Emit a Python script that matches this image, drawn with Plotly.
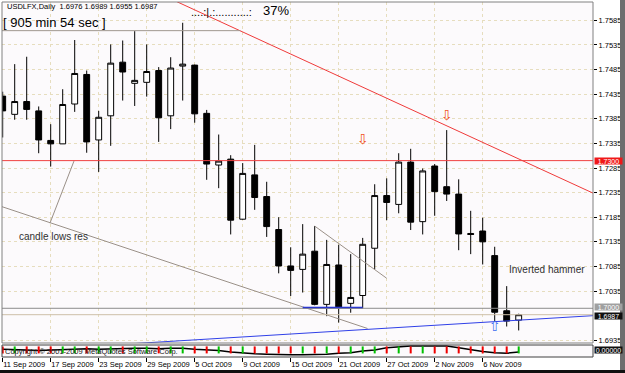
import datetime as dt
import plotly.graph_objects as go

# ---------------- data ----------------
dates = ["2009-09-11",
         "2009-09-14", "2009-09-15", "2009-09-16", "2009-09-17", "2009-09-18",
         "2009-09-21", "2009-09-22", "2009-09-23", "2009-09-24", "2009-09-25",
         "2009-09-28", "2009-09-29", "2009-09-30", "2009-10-01", "2009-10-02",
         "2009-10-05", "2009-10-06", "2009-10-07", "2009-10-08", "2009-10-09",
         "2009-10-12", "2009-10-13", "2009-10-14", "2009-10-15", "2009-10-16",
         "2009-10-19", "2009-10-20", "2009-10-21", "2009-10-22", "2009-10-23",
         "2009-10-26", "2009-10-27", "2009-10-28", "2009-10-29", "2009-10-30",
         "2009-11-02", "2009-11-03", "2009-11-04", "2009-11-05", "2009-11-06",
         "2009-11-09", "2009-11-10", "2009-11-11"]

opens = [1.7431, 1.7394, 1.7420, 1.7401, 1.7341, 1.7334, 1.7415, 1.7475, 1.7342, 1.7391,
         1.7500, 1.7457, 1.7459, 1.7483, 1.7391, 1.7492, 1.7494, 1.7396, 1.7291, 1.7303,
         1.7181, 1.7271, 1.7227, 1.7160, 1.7086, 1.7079, 1.7116, 1.7008, 1.7088, 1.7010,
         1.7026, 1.7122, 1.7229, 1.7211, 1.7297, 1.7176, 1.7289, 1.7247, 1.7232, 1.7152,
         1.7157, 1.7107, 1.6995, 1.6976]
highs = [1.7440, 1.7496, 1.7511, 1.7410, 1.7374, 1.7445, 1.7545, 1.7483, 1.7401, 1.7536,
         1.7544, 1.7563, 1.7536, 1.7490, 1.7510, 1.7580, 1.7495, 1.7403, 1.7353, 1.7311,
         1.7295, 1.7332, 1.7257, 1.7185, 1.7124, 1.7171, 1.7167, 1.7139, 1.7129, 1.7110,
         1.7143, 1.7252, 1.7264, 1.7315, 1.7324, 1.7284, 1.7293, 1.7362, 1.7262, 1.7198,
         1.7184, 1.7125, 1.7045, 1.6989]
lows = [1.7347, 1.7383, 1.7383, 1.7315, 1.7288, 1.7334, 1.7399, 1.7316, 1.7277, 1.7330,
        1.7422, 1.7411, 1.7430, 1.7338, 1.7364, 1.7422, 1.7377, 1.7261, 1.7244, 1.7150,
        1.7180, 1.7200, 1.7145, 1.7071, 1.7025, 1.7032, 1.7006, 1.6984, 1.6971, 1.6991,
        1.7000, 1.7079, 1.7179, 1.7193, 1.7159, 1.7150, 1.7188, 1.7218, 1.7118, 1.7110,
        1.7089, 1.6973, 1.6963, 1.6955]
closes = [1.7401, 1.7420, 1.7404, 1.7342, 1.7334, 1.7414, 1.7477, 1.7338, 1.7388, 1.7498,
          1.7480, 1.7463, 1.7481, 1.7387, 1.7488, 1.7496, 1.7395, 1.7293, 1.7299, 1.7179,
          1.7274, 1.7225, 1.7166, 1.7086, 1.7077, 1.7110, 1.7008, 1.7089, 1.7003, 1.7022,
          1.7130, 1.7229, 1.7215, 1.7297, 1.7175, 1.7279, 1.7237, 1.7232, 1.7151, 1.7150,
          1.7135, 1.6992, 1.6974, 1.6987]

# sub-window oscillator (0 = top of window)
indicator = [-35, -35, -40, -45, -40, -35, -30, -30, -35, -30,
             -25, -25, -25, -30, -25, -25, -35, -40, -45, -60,
             -70, -75, -80, -85, -85, -85, -85, -80, -70, -65,
             -50, -40, -20, -10, -5, -5, -5, -5, -20, -40,
             -55, -65, -70, -60]

price_ticks = [1.7585, 1.7535, 1.7485, 1.7435, 1.7385, 1.7335, 1.7285, 1.7235,
               1.7185, 1.7135, 1.7085, 1.7035, 1.6935]
date_tick_step = 4

# drawn objects (bar index, price)
red_trend_x, red_trend_y = [14.5, 49.5], [1.7623, 1.72305]
lows_res_x, lows_res_y = [-0.5, 30.4], [1.7210, 1.6959]
label_link_x, label_link_y = [3.94, 5.94], [1.7173, 1.7299]
wedge_x, wedge_y = [26.0, 32.0], [1.7167, 1.7061]
top_res_x, top_res_y = [-0.5, 19.8], [1.7564, 1.7564]
blue_support_x, blue_support_y = [25.0, 30.0], [1.7001, 1.7001]
blue_trend_x, blue_trend_y = [8.0, 49.5], [1.6924, 1.69855]
level_red = 1.7300
level_gray = 1.7000
bid_price = 1.6987
down_arrow_x, down_arrow_y = [30, 37], [1.7340, 1.7389]
up_arrow_x, up_arrow_y = [41], [1.6960]
note1_x, note1_y, note1 = 1.19, 1.7145, "candle lows res"
note2_x, note2_y, note2 = 42.0, 1.7078, "Inverted hammer"

# ---------------- figure ----------------
xs = list(range(len(dates)))
tick_vals = xs[::date_tick_step]
tick_text = []
for d in dates[::date_tick_step]:
    t = dt.date.fromisoformat(d)
    tick_text.append(f"{t.day} {t.strftime('%b %Y')}")

FONT = "Liberation Sans"
W, H = 625, 373
ML, MR, MT, MB = 2, 32, 2, 16
PW, PH = W - ML - MR, H - MT - MB


def px(xp):
    return (xp - ML) / PW


def py(yp):
    return (H - MB - yp) / PH


main_dom = [py(343), 1.0]
sub_dom = [0.0, py(345)]

fig = go.Figure()

fig.add_trace(go.Candlestick(
    x=xs, open=opens, high=highs, low=lows, close=closes,
    increasing=dict(line=dict(color="black", width=1), fillcolor="white"),
    decreasing=dict(line=dict(color="black", width=1), fillcolor="black"),
    whiskerwidth=0, hoverinfo="skip", showlegend=False, xaxis="x", yaxis="y"))


def seg(x, y, color, width=1):
    fig.add_trace(go.Scatter(x=x, y=y, mode="lines", line=dict(color=color, width=width),
                             hoverinfo="skip", showlegend=False, xaxis="x", yaxis="y"))


seg(red_trend_x, red_trend_y, "#F03A3A")
seg(lows_res_x, lows_res_y, "#9A9088")
seg(label_link_x, label_link_y, "#9A9088")
seg(wedge_x, wedge_y, "#9A9088")
seg(top_res_x, top_res_y, "#A09890")
seg(blue_trend_x, blue_trend_y, "#3040E8")
seg(blue_support_x, blue_support_y, "#1020E0", 2)

fig.add_trace(go.Scatter(x=down_arrow_x, y=down_arrow_y, mode="text", text=["⇩"] * len(down_arrow_x),
                         textfont=dict(family="DejaVu Sans", size=14, color="#F05020"),
                         hoverinfo="skip", showlegend=False, xaxis="x", yaxis="y"))
fig.add_trace(go.Scatter(x=up_arrow_x, y=up_arrow_y, mode="text", text=["⇧"] * len(up_arrow_x),
                         textfont=dict(family="DejaVu Sans", size=14, color="#4070F0"),
                         hoverinfo="skip", showlegend=False, xaxis="x", yaxis="y"))

# sub window
fig.add_trace(go.Scatter(x=xs, y=indicator, mode="lines", line=dict(color="black", width=1.5),
                         hoverinfo="skip", showlegend=False, xaxis="x", yaxis="y2"))
sig_col = ["#00C000" if c >= o else "#F00000" for o, c in zip(opens, closes)]
fig.add_trace(go.Scatter(x=xs, y=[-40] * len(xs), mode="markers",
                         marker=dict(symbol="line-ns", size=5, line=dict(width=2, color=sig_col)),
                         hoverinfo="skip", showlegend=False, xaxis="x", yaxis="y2"))

shapes = []
for lvl, col in [(level_red, "#F04040"), (level_gray, "#8C8C8C"), (bid_price, "#CDBFA8")]:
    shapes.append(dict(type="line", xref="x domain", yref="y", x0=0, x1=1, y0=lvl, y1=lvl,
                       line=dict(color=col, width=1), layer="above"))
shapes.append(dict(type="rect", xref="x domain", yref="y domain", x0=0, x1=1, y0=0, y1=1,
                   line=dict(color="#808080", width=1)))
shapes.append(dict(type="rect", xref="x domain", yref="y2 domain", x0=0, x1=1, y0=0, y1=1,
                   line=dict(color="#404040", width=1)))
# window frame
shapes.append(dict(type="rect", xref="paper", yref="paper", x0=px(620), x1=px(626), y0=py(374), y1=py(-1),
                   fillcolor="#6E6E6E", line=dict(width=0)))
shapes.append(dict(type="rect", xref="paper", yref="paper", x0=px(-1), x1=px(626), y0=py(374), y1=py(370),
                   fillcolor="#101010", line=dict(width=0)))

ann = []


def text(xp, yp, s, size, color="black", xanchor="left", family=FONT):
    ann.append(dict(xref="paper", yref="paper", x=px(xp), y=py(yp), text=s, showarrow=False,
                    xanchor=xanchor, yanchor="middle", font=dict(family=family, size=size, color=color)))


text(5, 7, "USDLFX,Daily  1.6976 1.6989 1.6955 1.6987", 7.5)
text(1, 22, "[ 905 min 54 sec ]", 13)
text(189, 12, "....:|.:...........:", 11)
text(261, 11, "37%", 13)
text(3, 351, "Copyright © 2001-2009 MetaQuotes Software Corp.", 7.5, "#202020")

for xv, yv, s in [(note1_x, note1_y, note1), (note2_x, note2_y, note2)]:
    ann.append(dict(xref="x", yref="y", x=xv, y=yv, text=s, showarrow=False, xanchor="left",
                    yanchor="middle", font=dict(family=FONT, size=10, color="#303030")))


def tag(yv, s, bg, fg="white", yref="y", yshift=0):
    ann.append(dict(xref="paper", yref=yref, x=1, y=yv, text=s, showarrow=False, xanchor="left",
                    yanchor="middle", xshift=1, yshift=yshift, bgcolor=bg, borderpad=0, width=27, height=6,
                    font=dict(family=FONT, size=7, color=fg)))


tag(level_red, f"{level_red:.4f}", "#F01818")
tag(level_gray, f"{level_gray:.4f}", "#A0A0A0", yshift=1)
tag(bid_price, f"{bid_price:.4f}", "#101010", yshift=-1)
tag(-38, "0.00000", "#101010", yref="y2")

fig.update_layout(
    width=W, height=H, autosize=False,
    margin=dict(l=ML, r=MR, t=MT, b=MB, autoexpand=False),
    paper_bgcolor="white", plot_bgcolor="#FCFAFC",
    shapes=shapes, annotations=ann,
    xaxis=dict(anchor="y2", range=[(ML - 2.7) / 12, (ML + PW - 2.7) / 12],
               tickvals=tick_vals, ticktext=tick_text, ticks="outside", ticklen=4, tickcolor="black",
               ticklabelposition="outside right", tickangle=0, automargin=False,
               tickfont=dict(family=FONT, size=7.5, color="black"),
               showgrid=True, gridcolor="#E6DDBE", griddash="dot", zeroline=False,
               rangeslider=dict(visible=False), showline=False, fixedrange=True),
    yaxis=dict(domain=main_dom, anchor="x", side="right", range=[1.69295, 1.76222],
               tickvals=price_ticks, ticktext=[f"{v:.4f}" for v in price_ticks],
               ticks="outside", ticklen=3, tickcolor="black", automargin=False,
               tickfont=dict(family=FONT, size=7.5, color="black"),
               showgrid=True, gridcolor="#E6DDBE", griddash="dot", zeroline=False, showline=False),
    yaxis2=dict(domain=sub_dom, anchor="x", side="right", range=[-105, 5], automargin=False,
                showticklabels=False, showgrid=False, zeroline=False, ticks=""),
)

fig.write_html("out.html")
